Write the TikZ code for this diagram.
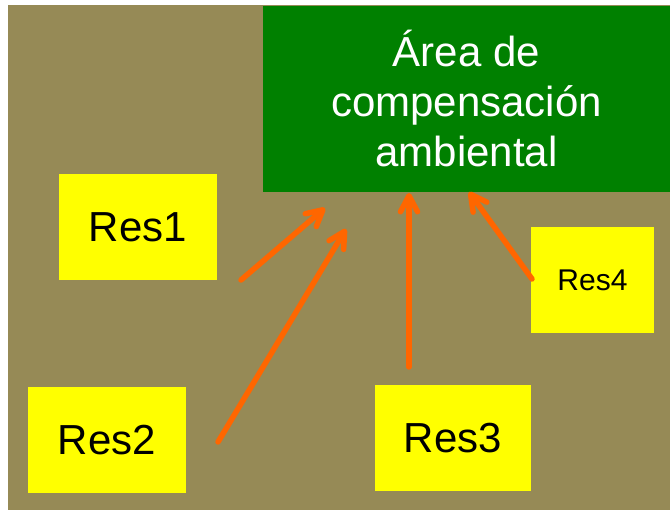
\documentclass[tikz,border=0pt]{standalone}
\usepackage{fontspec}
\setmainfont{Liberation Sans}
\usetikzlibrary{arrows.meta}

\definecolor{oliveBg}{RGB}{150,138,86}
\definecolor{zoneGreen}{RGB}{0,128,0}
\definecolor{arrowOrange}{RGB}{255,102,0}
\definecolor{resYellow}{RGB}{255,255,0}

\begin{document}
\begin{tikzpicture}
[x=1pt,y=1pt,
  resDecorate/.style={shape=rectangle,fill=resYellow,inner sep=0pt,
    minimum height=106pt,text=black},%
  zoneDecorate/.style={shape=rectangle,fill=zoneGreen,inner sep=0pt,
    minimum width=407pt,minimum height=186pt,text=white,align=center,
    font=\fontsize{42}{50}\selectfont},%
  arrowDecorate/.style={arrowOrange,line width=5.5pt,line cap=round,
    -{Straight Barb[length=16pt,width=17pt,round]}}]
\useasboundingbox (0,0) rectangle (670,510);
\fill[white] (0,0) rectangle (670,510);
\fill[oliveBg] (8,0) rectangle (670,505);
%% target area
\node (zone) at (466.5,411) [zoneDecorate] {Área de\\compensación\\ambiental};
%% residue boxes
\foreach \nodename/\x/\y/\w/\size/\label in {
  res1/138/283/158/42/Res1, res2/107/70/158/42/Res2,
  res3/453/71.5/156/42/Res3, res4/592.5/229.5/123/30/Res4}
{
  \node (\nodename) at (\x,\y) [resDecorate,minimum width=\w pt,
    font=\fontsize{\size}{\size}\selectfont] {\label};
}
%% arrow ends
\foreach \ptname/\x/\y in {
  s1/241/230, t1/325/302, s2/218/68, t2/346/281,
  s3/409/143, t3/409/317, s4/532/231, t4/469/318}
{
  \coordinate (\ptname) at (\x,\y);
}
%% arrows
\path
\foreach \startnode/\endnode in {s1/t1, s2/t2, s3/t3, s4/t4}
{
  (\startnode) edge[arrowDecorate] (\endnode)
};
\end{tikzpicture}
\end{document}
